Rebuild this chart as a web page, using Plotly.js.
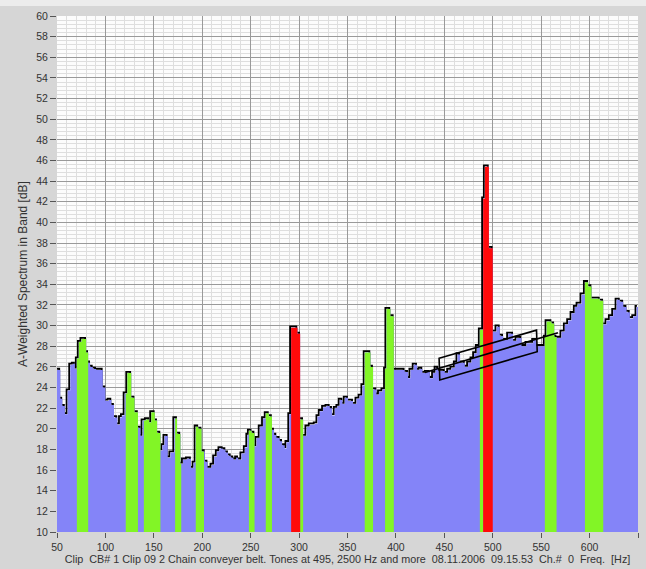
<!DOCTYPE html>
<html>
<head>
<meta charset="utf-8">
<script src="https://cdn.plot.ly/plotly-3.0.1.min.js"></script>
<style>
  html, body { margin: 0; padding: 0; background: #d6d6d6; }
  #chart { width: 646px; height: 569px; }
</style>
</head>
<body>
<div id="chart"></div>
<script>
// ---- Data (step spectrum: start frequency of each step and its level) ----
const runStartHz = [
  50.0, 53.4, 55.5, 58.2, 61.0, 63.7, 66.4, 68.5, 70.5, 72.6, 75.3, 80.1, 82.2, 84.2, 87.0, 90.4, 97.3,
  100.0, 103.4, 106.2, 108.9, 112.3, 115.1, 117.1, 119.9, 122.6, 126.7, 130.1, 133.6, 136.3, 138.4, 141.8, 145.2,
  147.3, 151.0, 153.4, 156.8, 158.9, 161.0, 164.4, 167.1, 171.2, 174.0, 177.4, 180.1, 184.2, 188.4, 191.1, 193.2,
  195.9, 199.3, 202.7, 205.5, 209.6, 212.3, 215.1, 217.8, 221.2, 224.0, 226.7, 229.5, 232.2, 235.0, 237.1, 240.5,
  244.0, 246.6, 248.2, 251.0, 254.0, 256.0, 259.4, 262.8, 265.6, 268.8, 272.0, 274.2, 276.6, 280.0, 282.5, 285.2,
  287.0, 289.9, 291.8, 298.3, 301.1, 304.2, 307.6, 311.1, 316.2, 319.0, 321.4, 324.8, 328.3, 331.7, 334.1, 336.9,
  339.6, 342.0, 344.8, 347.2, 350.6, 355.8, 359.3, 362.5, 365.4, 367.8, 373.7, 376.4, 379.9, 382.6, 386.1, 388.8,
  390.2, 394.3, 397.8, 409.1, 412.6, 415.0, 418.4, 421.9, 424.6, 427.4, 430.8, 435.0, 438.4, 441.0, 443.6, 450.5,
  454.0, 457.4, 460.9, 463.6, 466.3, 471.2, 474.6, 478.1, 480.8, 483.6, 486.7, 490.1, 491.9, 496.0, 500.0, 503.9,
  507.3, 510.8, 515.9, 521.1, 524.6, 529.7, 534.9, 541.8, 545.2, 553.8, 555.6, 560.7, 563.5, 565.9, 571.0, 574.5,
  577.9, 581.4, 584.8, 587.6, 591.7, 595.2, 598.6, 602.0, 610.6, 614.1, 617.5, 621.0, 624.4, 627.9, 631.3, 634.8,
  638.2, 641.6, 645.1, 648.5
];
const runLevelDb = [
  25.7, 22.9, 22.2, 21.4, 23.7, 26.2, 26.3, 25.8, 26.8, 28.4, 28.7, 27.4, 26.4, 26.0, 25.8, 25.7, 24.0,
  22.7, 22.8, 22.3, 21.1, 20.4, 21.1, 21.3, 23.4, 25.4, 23.0, 21.6, 20.1, 19.3, 20.8, 20.9, 20.6,
  21.6, 20.8, 19.6, 17.9, 18.4, 19.3, 17.2, 17.7, 21.0, 19.5, 16.6, 17.0, 17.1, 16.2, 16.7, 20.2,
  20.0, 17.8, 16.8, 16.2, 16.5, 17.3, 17.8, 18.1, 18.0, 17.7, 17.4, 17.2, 17.0, 17.2, 17.0, 17.6,
  18.2, 19.4, 19.8, 19.6, 18.3, 19.1, 20.2, 21.0, 21.5, 21.2, 19.9, 19.4, 19.1, 18.8, 18.4, 18.1,
  18.7, 21.4, 29.8, 29.2, 20.9, 19.3, 20.2, 20.4, 20.5, 21.2, 21.7, 22.1, 22.2, 22.0, 21.3, 22.0,
  22.2, 22.8, 22.4, 23.0, 22.7, 22.4, 22.9, 23.2, 24.2, 27.4, 26.0, 23.8, 23.3, 23.6, 23.8, 25.8,
  31.6, 30.9, 25.7, 25.5, 24.9, 25.7, 26.2, 25.7, 25.8, 25.4, 25.5, 24.9, 25.4, 25.9, 25.6, 25.4,
  25.7, 25.9, 26.4, 27.2, 26.4, 26.0, 26.4, 26.8, 27.3, 28.0, 29.6, 42.3, 45.4, 37.5, 29.4, 29.9,
  29.0, 28.6, 29.2, 28.5, 28.8, 28.0, 28.3, 28.6, 28.0, 28.9, 30.4, 30.2, 28.9, 28.8, 29.4, 30.1,
  30.5, 31.2, 31.8, 32.1, 33.0, 34.2, 33.8, 32.6, 32.4, 30.1, 30.5, 30.9, 31.5, 32.5, 32.3, 31.8,
  31.3, 30.7, 30.9, 31.8
];
const spectrumEndHz = 650;

// Frequency bands marked as tones
const greenBandsHz = [
  [70.5, 82.2], [121.0, 133.6], [139.7, 156.8], [172.0, 178.3], [193.3, 201.8],
  [248.2, 254.0], [265.6, 272.0], [301.1, 304.2], [367.8, 376.4], [388.8, 397.8],
  [486.7, 490.1], [553.8, 565.9], [595.2, 614.1]
];
const redBandsHz = [[291.8, 301.1], [490.1, 500.0]];

// Hand-drawn marker (parallelogram + line) on the chart
const markBoxHz = [444.6, 545.2, 545.9, 445.3];
const markBoxDb = [26.83, 29.56, 27.47, 24.73];
const markLineHz = [430.0, 567.3];
const markLineDb = [25.46, 29.31];

const yTitle = 'A-Weighted Spectrum in Band [dB]';
const xTitle = 'Clip  CB# 1 Clip 09 2 Chain conveyer belt. Tones at 495, 2500 Hz and more  08.11.2006  09.15.53  Ch.#  0  Freq.  [Hz]';

// ---- Build traces ----
const nb = s => s.replace(/  /g, '\u00a0\u00a0');
const stepX = runStartHz.concat([spectrumEndHz]);
const stepY = runLevelDb.concat([runLevelDb[runLevelDb.length - 1]]);

function levelAt(f) {
  let v = runLevelDb[0];
  for (let i = 0; i < runStartHz.length; i++) { if (runStartHz[i] <= f) v = runLevelDb[i]; }
  return v;
}
function bandTraces(bands, color) {
  return bands.map(([a, b]) => {
    const x = [a], y = [levelAt(a)];
    runStartHz.forEach((f, i) => { if (f > a && f < b) { x.push(f); y.push(runLevelDb[i]); } });
    x.push(b); y.push(levelAt(b - 1e-6));
    return {
      type: 'scatter', mode: 'lines', x, y,
      line: { shape: 'hv', width: 0, color },
      fill: 'tozeroy', fillcolor: color, hoverinfo: 'skip'
    };
  });
}

const SHIFT_HZ = 1.1, SHIFT_DB = 0.12; // drop-shadow style offset of the outline
const outline = {
  type: 'scatter', mode: 'lines',
  x: stepX.map(v => v - SHIFT_HZ), y: stepY.map(v => v + SHIFT_DB),
  line: { shape: 'hv', color: '#000000', width: 1.8 },
  hoverinfo: 'skip'
};
const blue = {
  type: 'scatter', mode: 'lines', x: stepX, y: stepY,
  line: { shape: 'hv', width: 0, color: '#8484f8' },
  fill: 'tozeroy', fillcolor: '#8484f8', hoverinfo: 'skip'
};
const greens = bandTraces(greenBandsHz, '#82f526');
const reds = bandTraces(redBandsHz, '#ff0a0a');

const boxPath = 'M ' + markBoxHz.map((f, i) => f + ',' + markBoxDb[i]).join(' L ') + ' Z';

const font = { family: 'Liberation Sans, Arial, sans-serif', size: 10.5, color: '#333333' };
const xTitleFont = { family: 'Liberation Sans, Arial, sans-serif', size: 10.8, color: '#333333' };
const yTitleFont = { family: 'Liberation Sans, Arial, sans-serif', size: 12, color: '#333333' };

const layout = {
  width: 646, height: 569,
  margin: { l: 57, r: 8, t: 16, b: 37, pad: 0 },
  paper_bgcolor: '#d6d6d6',
  plot_bgcolor: '#fcfcfc',
  showlegend: false,
  font: font,
  xaxis: {
    range: [50, 650], tick0: 50, dtick: 50,
    showgrid: true, gridcolor: '#999999', gridwidth: 1,
    minor: { dtick: 10, showgrid: true, gridcolor: '#dedede', gridwidth: 1 },
    zeroline: false, showline: false,
    ticks: 'outside', ticklen: 5, tickcolor: '#555555', tickwidth: 1,
    tickfont: font, automargin: false,
    title: { text: nb(xTitle), font: xTitleFont, standoff: 2 }
  },
  yaxis: {
    range: [10, 60], tick0: 10, dtick: 2,
    showgrid: true, gridcolor: '#999999', gridwidth: 1,
    minor: { dtick: 0.4, showgrid: true, gridcolor: '#dedede', gridwidth: 1 },
    zeroline: false, showline: false,
    ticks: 'outside', ticklen: 6, tickcolor: '#555555', tickwidth: 1,
    tickfont: font, automargin: false,
    title: { text: yTitle, font: yTitleFont, standoff: 6 }
  },
  shapes: [
    { type: 'rect', xref: 'paper', yref: 'paper', x0: -0.2, x1: 1.2, y0: 1.0194, y1: 1.1,
      fillcolor: '#ececec', line: { width: 0 }, layer: 'below' },
    { type: 'path', xref: 'x', yref: 'y', path: boxPath, line: { color: '#000000', width: 1.6 } },
    { type: 'line', xref: 'x', yref: 'y', x0: markLineHz[0], y0: markLineDb[0], x1: markLineHz[1], y1: markLineDb[1],
      line: { color: '#000000', width: 1.6 } }
  ]
};

Plotly.newPlot('chart', [outline, blue].concat(greens, reds), layout, { staticPlot: true, displayModeBar: false });
</script>
</body>
</html>
